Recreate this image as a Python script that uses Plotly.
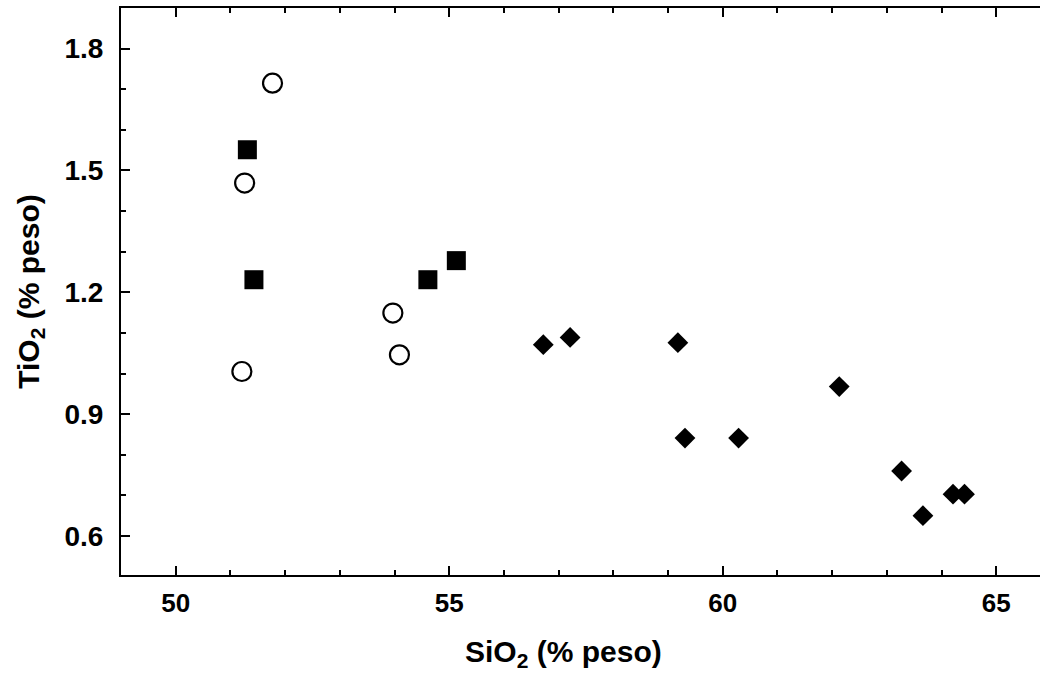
import plotly.graph_objects as go

# SiO2 vs TiO2 (% peso) by sample group
circ_sio2 = [51.77, 51.26, 53.97, 54.09, 51.21]
circ_tio2 = [1.715, 1.469, 1.149, 1.046, 1.005]

sq_sio2 = [51.31, 51.43, 54.61, 55.13]
sq_tio2 = [1.551, 1.231, 1.231, 1.278]

dia_sio2 = [56.72, 57.21, 59.18, 62.13, 59.31, 60.29, 63.27, 63.66, 64.21, 64.42]
dia_tio2 = [1.071, 1.089, 1.076, 0.968, 0.841, 0.841, 0.760, 0.650, 0.703, 0.703]

x_ticks = [50, 55, 60, 65]
y_ticks = [0.6, 0.9, 1.2, 1.5, 1.8]

FONT = "Liberation Sans, Arial, sans-serif"

fig = go.Figure()
fig.add_trace(go.Scatter(
    x=circ_sio2, y=circ_tio2, mode="markers",
    marker=dict(symbol="circle-open", size=19, color="black",
                line=dict(width=2.2, color="black")),
    showlegend=False))
fig.add_trace(go.Scatter(
    x=sq_sio2, y=sq_tio2, mode="markers",
    marker=dict(symbol="square", size=19, color="black",
                line=dict(width=0)),
    showlegend=False))
fig.add_trace(go.Scatter(
    x=dia_sio2, y=dia_tio2, mode="markers",
    marker=dict(symbol="diamond", size=16, color="black",
                line=dict(width=0)),
    showlegend=False))

axis_common = dict(
    showgrid=False, zeroline=False,
    showline=True, linewidth=2, linecolor="black",
    ticks="inside", ticklen=9, tickwidth=2, tickcolor="black",
)

fig.update_xaxes(
    **axis_common,
    range=[49.0, 65.8], tickvals=x_ticks, mirror="ticks",
    tickfont=dict(family=FONT, size=26, color="black", weight="bold"),
    ticklabelstandoff=4,
    minor=dict(dtick=1, tick0=50, ticks="inside", ticklen=5,
               tickwidth=2, tickcolor="black"),
)
fig.update_yaxes(
    **axis_common,
    range=[0.504, 1.90], tickvals=y_ticks, ticktext=["0.6", "0.9", "1.2", "1.5", "1.8"],
    mirror=False,
    tickfont=dict(family=FONT, size=28, color="black", weight="bold"),
    ticklabelstandoff=10,
    minor=dict(dtick=0.1, tick0=0.6, ticks="inside", ticklen=5,
               tickwidth=2, tickcolor="black"),
    title=dict(text="TiO<sub>2</sub> (% peso)", standoff=16,
               font=dict(family=FONT, size=30, color="black", weight="bold")),
)

# x-axis title, placed slightly left of the plot centre
fig.add_annotation(
    text="SiO<sub>2</sub> (% peso)", xref="paper", yref="paper",
    x=0.482, y=0, yshift=-78, xanchor="center", yanchor="middle",
    showarrow=False,
    font=dict(family=FONT, size=30, color="black", weight="bold"),
)

fig.update_layout(
    width=1040, height=673, autosize=False,
    margin=dict(l=121, r=0, t=8, b=98),
    paper_bgcolor="white", plot_bgcolor="white",
)

fig.write_html("out.html")
